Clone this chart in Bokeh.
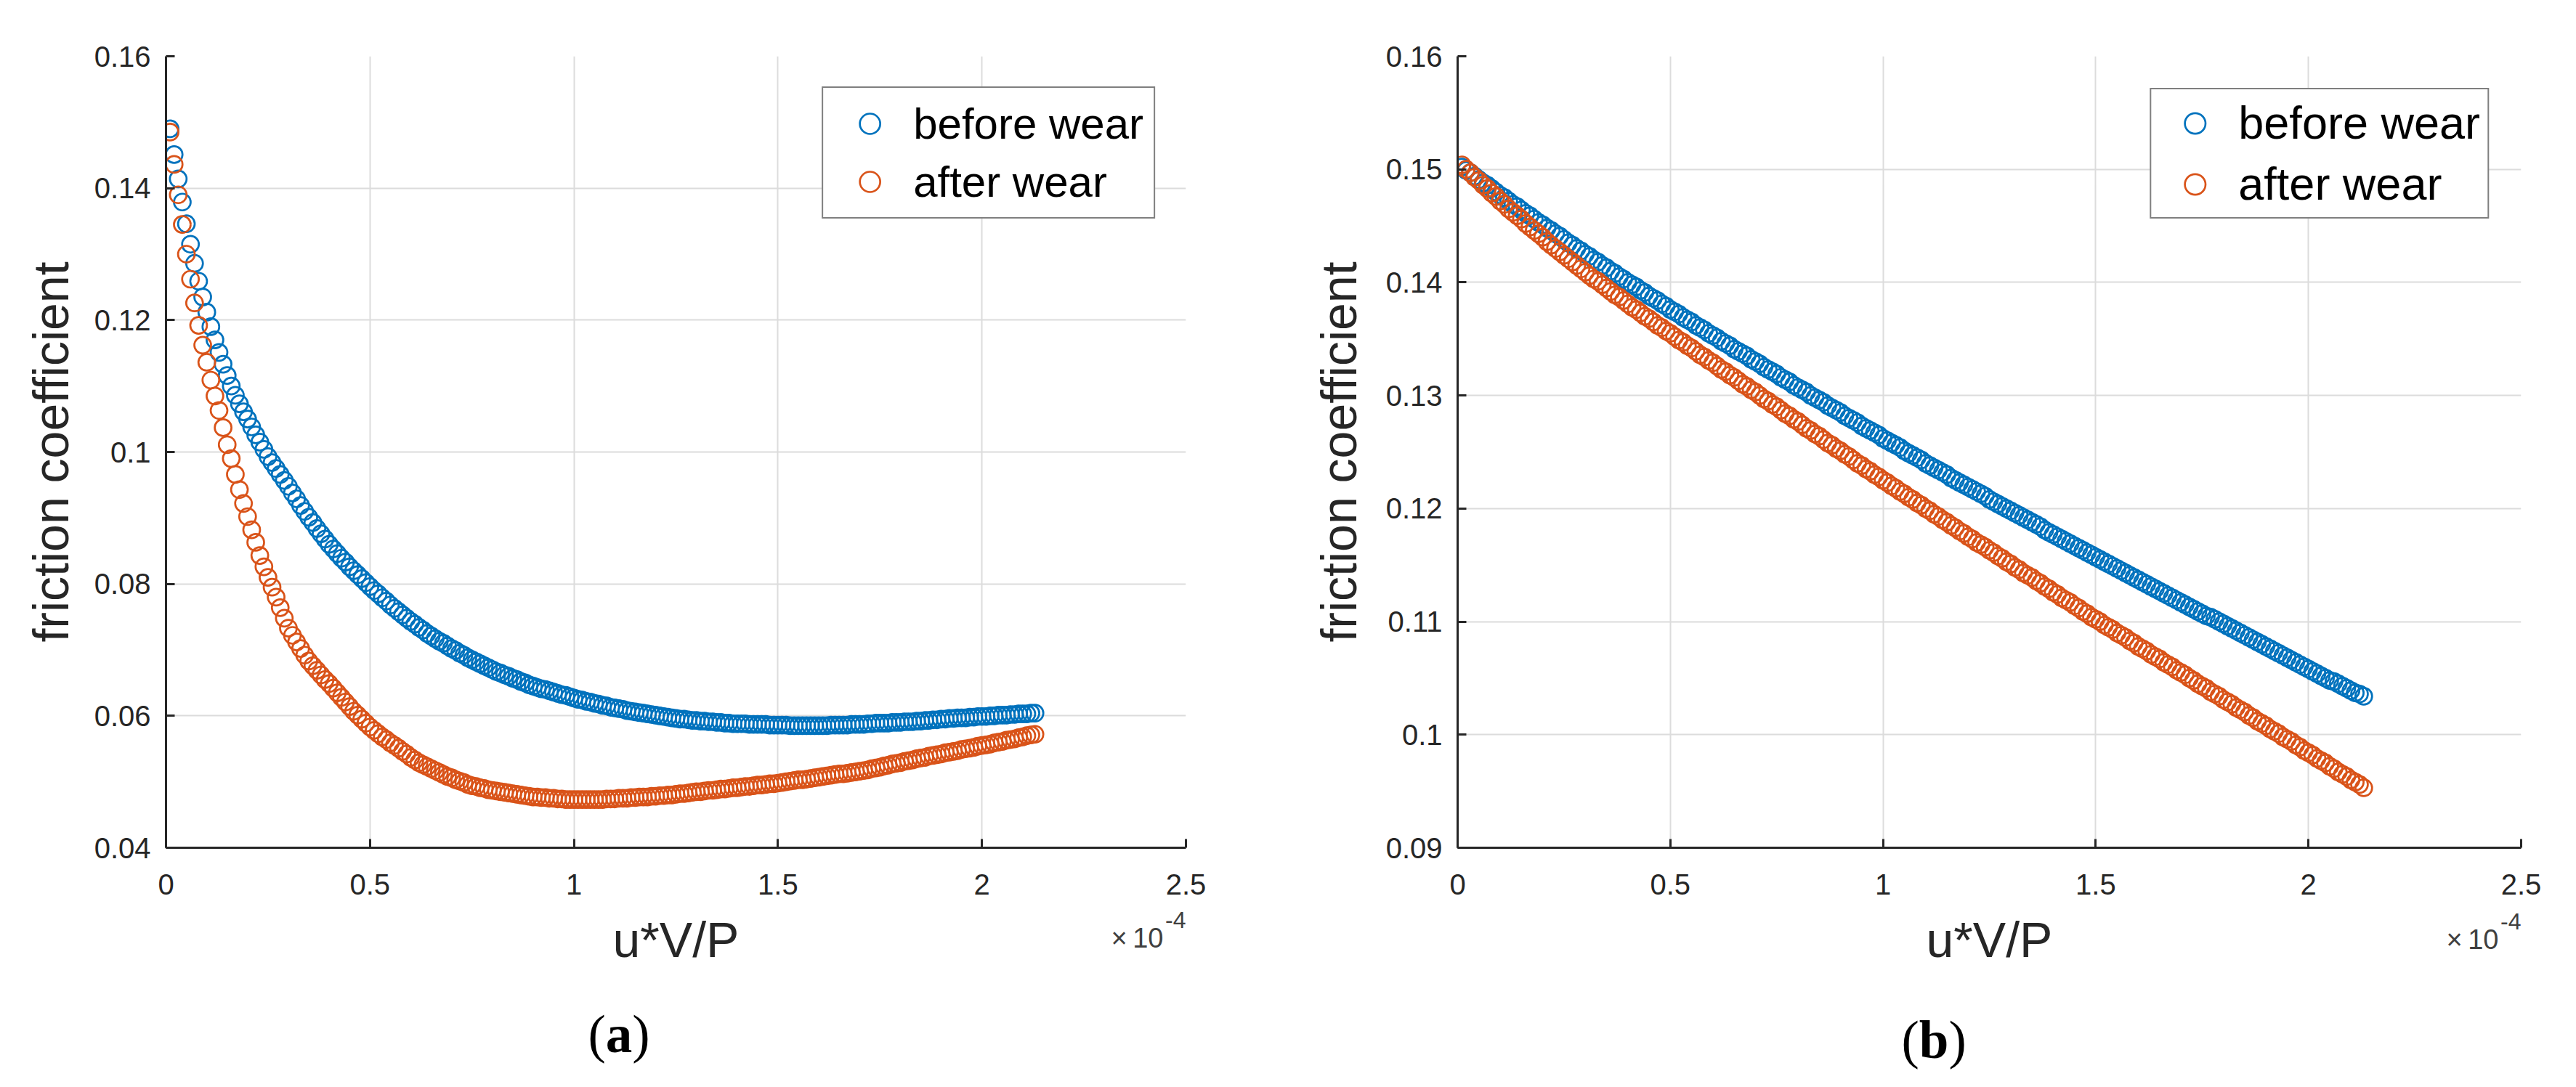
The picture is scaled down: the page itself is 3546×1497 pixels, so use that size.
from bokeh.plotting import figure
from bokeh.layouts import row
from bokeh.models import FixedTicker, Legend, LegendItem, ColumnDataSource, Range1d, Title
from bokeh.embed import file_html
from bokeh.resources import INLINE

# ---------------- data (x in units of 1e-4) ----------------
x_vals = [
    0.01, 0.02, 0.03, 0.04, 0.05, 0.06, 0.07, 0.08, 0.09, 0.10,
    0.11, 0.12, 0.13, 0.14, 0.15, 0.16, 0.17, 0.18, 0.19, 0.20,
    0.21, 0.22, 0.23, 0.24, 0.25, 0.26, 0.27, 0.28, 0.29, 0.30,
    0.31, 0.32, 0.33, 0.34, 0.35, 0.36, 0.37, 0.38, 0.39, 0.40,
    0.41, 0.42, 0.43, 0.44, 0.45, 0.46, 0.47, 0.48, 0.49, 0.50,
    0.51, 0.52, 0.53, 0.54, 0.55, 0.56, 0.57, 0.58, 0.59, 0.60,
    0.61, 0.62, 0.63, 0.64, 0.65, 0.66, 0.67, 0.68, 0.69, 0.70,
    0.71, 0.72, 0.73, 0.74, 0.75, 0.76, 0.77, 0.78, 0.79, 0.80,
    0.81, 0.82, 0.83, 0.84, 0.85, 0.86, 0.87, 0.88, 0.89, 0.90,
    0.91, 0.92, 0.93, 0.94, 0.95, 0.96, 0.97, 0.98, 0.99, 1.00,
    1.01, 1.02, 1.03, 1.04, 1.05, 1.06, 1.07, 1.08, 1.09, 1.10,
    1.11, 1.12, 1.13, 1.14, 1.15, 1.16, 1.17, 1.18, 1.19, 1.20,
    1.21, 1.22, 1.23, 1.24, 1.25, 1.26, 1.27, 1.28, 1.29, 1.30,
    1.31, 1.32, 1.33, 1.34, 1.35, 1.36, 1.37, 1.38, 1.39, 1.40,
    1.41, 1.42, 1.43, 1.44, 1.45, 1.46, 1.47, 1.48, 1.49, 1.50,
    1.51, 1.52, 1.53, 1.54, 1.55, 1.56, 1.57, 1.58, 1.59, 1.60,
    1.61, 1.62, 1.63, 1.64, 1.65, 1.66, 1.67, 1.68, 1.69, 1.70,
    1.71, 1.72, 1.73, 1.74, 1.75, 1.76, 1.77, 1.78, 1.79, 1.80,
    1.81, 1.82, 1.83, 1.84, 1.85, 1.86, 1.87, 1.88, 1.89, 1.90,
    1.91, 1.92, 1.93, 1.94, 1.95, 1.96, 1.97, 1.98, 1.99, 2.00,
    2.01, 2.02, 2.03, 2.04, 2.05, 2.06, 2.07, 2.08, 2.09, 2.10,
    2.11, 2.12, 2.13,
]

a_before = [
    0.1490, 0.1451, 0.1414, 0.1379, 0.1346, 0.1315, 0.1286, 0.1259, 0.1235, 0.1212,
    0.1190, 0.1170, 0.1151, 0.1133, 0.1116, 0.1100, 0.1086, 0.1073, 0.1061, 0.1050,
    0.1038, 0.1026, 0.1015, 0.1004, 0.0993, 0.0984, 0.0975, 0.0966, 0.0957, 0.0948,
    0.0938, 0.0929, 0.0919, 0.0910, 0.0901, 0.0893, 0.0884, 0.0876, 0.0868, 0.0860,
    0.0853, 0.0846, 0.0839, 0.0833, 0.0826, 0.0820, 0.0814, 0.0808, 0.0802, 0.0796,
    0.0790, 0.0785, 0.0779, 0.0774, 0.0768, 0.0763, 0.0758, 0.0753, 0.0748, 0.0743,
    0.0739, 0.0734, 0.0730, 0.0725, 0.0721, 0.0717, 0.0713, 0.0710, 0.0706, 0.0702,
    0.0699, 0.0695, 0.0692, 0.0688, 0.0685, 0.0682, 0.0679, 0.0676, 0.0673, 0.0670,
    0.0667, 0.0665, 0.0662, 0.0660, 0.0657, 0.0655, 0.0652, 0.0650, 0.0647, 0.0645,
    0.0643, 0.0641, 0.0640, 0.0638, 0.0636, 0.0634, 0.0632, 0.0631, 0.0629, 0.0627,
    0.0625, 0.0624, 0.0622, 0.0621, 0.0619, 0.0618, 0.0616, 0.0615, 0.0613, 0.0612,
    0.0611, 0.0610, 0.0608, 0.0607, 0.0606, 0.0605, 0.0604, 0.0603, 0.0602, 0.0601,
    0.0600, 0.0599, 0.0598, 0.0597, 0.0596, 0.0595, 0.0595, 0.0594, 0.0593, 0.0593,
    0.0592, 0.0592, 0.0591, 0.0591, 0.0590, 0.0590, 0.0589, 0.0589, 0.0588, 0.0588,
    0.0588, 0.0588, 0.0587, 0.0587, 0.0587, 0.0587, 0.0587, 0.0586, 0.0586, 0.0586,
    0.0586, 0.0586, 0.0585, 0.0585, 0.0585, 0.0585, 0.0585, 0.0585, 0.0585, 0.0585,
    0.0585, 0.0585, 0.0586, 0.0586, 0.0586, 0.0586, 0.0586, 0.0587, 0.0587, 0.0587,
    0.0587, 0.0588, 0.0588, 0.0589, 0.0589, 0.0589, 0.0589, 0.0590, 0.0590, 0.0590,
    0.0591, 0.0591, 0.0591, 0.0592, 0.0592, 0.0593, 0.0593, 0.0594, 0.0594, 0.0595,
    0.0595, 0.0596, 0.0596, 0.0597, 0.0597, 0.0597, 0.0598, 0.0598, 0.0599, 0.0599,
    0.0599, 0.0600, 0.0600, 0.0601, 0.0601, 0.0601, 0.0602, 0.0602, 0.0603, 0.0603,
    0.0603, 0.0604, 0.0604,
]

a_after = [
    0.1485, 0.1436, 0.1390, 0.1345, 0.1300, 0.1262, 0.1226, 0.1192, 0.1162, 0.1136,
    0.1109, 0.1085, 0.1063, 0.1037, 0.1011, 0.0990, 0.0966, 0.0943, 0.0922, 0.0902,
    0.0882, 0.0863, 0.0843, 0.0826, 0.0810, 0.0795, 0.0780, 0.0764, 0.0748, 0.0733,
    0.0722, 0.0712, 0.0702, 0.0692, 0.0683, 0.0676, 0.0669, 0.0662, 0.0655, 0.0649,
    0.0642, 0.0635, 0.0628, 0.0621, 0.0614, 0.0607, 0.0601, 0.0595, 0.0589, 0.0583,
    0.0578, 0.0573, 0.0568, 0.0564, 0.0559, 0.0555, 0.0551, 0.0546, 0.0542, 0.0537,
    0.0533, 0.0529, 0.0526, 0.0523, 0.0520, 0.0517, 0.0514, 0.0511, 0.0508, 0.0506,
    0.0503, 0.0501, 0.0499, 0.0496, 0.0494, 0.0493, 0.0491, 0.0490, 0.0488, 0.0487,
    0.0486, 0.0485, 0.0484, 0.0483, 0.0482, 0.0481, 0.0480, 0.0479, 0.0478, 0.0477,
    0.0477, 0.0476, 0.0476, 0.0475, 0.0475, 0.0474, 0.0474, 0.0473, 0.0473, 0.0473,
    0.0473, 0.0473, 0.0473, 0.0473, 0.0473, 0.0473, 0.0473, 0.0474, 0.0474, 0.0474,
    0.0475, 0.0475, 0.0475, 0.0476, 0.0476, 0.0477, 0.0477, 0.0477, 0.0478, 0.0478,
    0.0479, 0.0479, 0.0480, 0.0480, 0.0481, 0.0482, 0.0482, 0.0483, 0.0484, 0.0485,
    0.0485, 0.0486, 0.0487, 0.0487, 0.0488, 0.0489, 0.0489, 0.0490, 0.0491, 0.0491,
    0.0492, 0.0493, 0.0493, 0.0494, 0.0495, 0.0495, 0.0496, 0.0497, 0.0497, 0.0498,
    0.0499, 0.0500, 0.0501, 0.0502, 0.0503, 0.0503, 0.0504, 0.0505, 0.0506, 0.0507,
    0.0508, 0.0509, 0.0510, 0.0511, 0.0512, 0.0512, 0.0513, 0.0514, 0.0515, 0.0516,
    0.0517, 0.0518, 0.0520, 0.0521, 0.0522, 0.0524, 0.0525, 0.0527, 0.0528, 0.0529,
    0.0531, 0.0532, 0.0533, 0.0535, 0.0536, 0.0537, 0.0539, 0.0540, 0.0541, 0.0542,
    0.0544, 0.0545, 0.0546, 0.0547, 0.0549, 0.0550, 0.0551, 0.0552, 0.0554, 0.0555,
    0.0556, 0.0557, 0.0559, 0.0560, 0.0561, 0.0563, 0.0564, 0.0565, 0.0567, 0.0568,
    0.0570, 0.0571, 0.0572,
]

b_before = [
    0.1502, 0.1499, 0.1497, 0.1494, 0.1491, 0.1488, 0.1486, 0.1483, 0.1480, 0.1477,
    0.1475, 0.1472, 0.1469, 0.1467, 0.1464, 0.1461, 0.1459, 0.1456, 0.1453, 0.1451,
    0.1448, 0.1446, 0.1443, 0.1441, 0.1438, 0.1435, 0.1433, 0.1430, 0.1428, 0.1425,
    0.1423, 0.1420, 0.1418, 0.1415, 0.1413, 0.1410, 0.1408, 0.1405, 0.1403, 0.1400,
    0.1398, 0.1396, 0.1393, 0.1391, 0.1388, 0.1386, 0.1384, 0.1381, 0.1379, 0.1376,
    0.1374, 0.1372, 0.1369, 0.1367, 0.1365, 0.1362, 0.1360, 0.1358, 0.1355, 0.1353,
    0.1351, 0.1348, 0.1346, 0.1344, 0.1341, 0.1339, 0.1337, 0.1335, 0.1332, 0.1330,
    0.1328, 0.1325, 0.1323, 0.1321, 0.1319, 0.1316, 0.1314, 0.1312, 0.1309, 0.1307,
    0.1305, 0.1303, 0.1300, 0.1298, 0.1296, 0.1294, 0.1291, 0.1289, 0.1287, 0.1285,
    0.1282, 0.1280, 0.1278, 0.1276, 0.1273, 0.1271, 0.1269, 0.1267, 0.1265, 0.1262,
    0.1260, 0.1258, 0.1256, 0.1254, 0.1251, 0.1249, 0.1247, 0.1245, 0.1243, 0.1240,
    0.1238, 0.1236, 0.1234, 0.1232, 0.1230, 0.1227, 0.1225, 0.1223, 0.1221, 0.1219,
    0.1217, 0.1215, 0.1213, 0.1211, 0.1208, 0.1206, 0.1204, 0.1202, 0.1200, 0.1198,
    0.1196, 0.1194, 0.1192, 0.1190, 0.1188, 0.1186, 0.1184, 0.1181, 0.1179, 0.1177,
    0.1175, 0.1173, 0.1171, 0.1169, 0.1167, 0.1165, 0.1163, 0.1161, 0.1159, 0.1157,
    0.1155, 0.1153, 0.1151, 0.1149, 0.1147, 0.1145, 0.1143, 0.1141, 0.1139, 0.1137,
    0.1135, 0.1133, 0.1131, 0.1129, 0.1127, 0.1125, 0.1123, 0.1121, 0.1119, 0.1117,
    0.1115, 0.1113, 0.1111, 0.1109, 0.1107, 0.1105, 0.1104, 0.1102, 0.1100, 0.1098,
    0.1096, 0.1094, 0.1092, 0.1090, 0.1088, 0.1086, 0.1084, 0.1082, 0.1080, 0.1078,
    0.1076, 0.1074, 0.1072, 0.1070, 0.1068, 0.1066, 0.1064, 0.1062, 0.1060, 0.1058,
    0.1056, 0.1054, 0.1052, 0.1050, 0.1048, 0.1047, 0.1045, 0.1043, 0.1041, 0.1039,
    0.1037, 0.1036, 0.1034,
]

b_after = [
    0.1504, 0.1500, 0.1497, 0.1493, 0.1490, 0.1486, 0.1483, 0.1479, 0.1476, 0.1472,
    0.1469, 0.1465, 0.1462, 0.1459, 0.1456, 0.1452, 0.1449, 0.1446, 0.1443, 0.1440,
    0.1436, 0.1433, 0.1430, 0.1427, 0.1424, 0.1421, 0.1418, 0.1415, 0.1412, 0.1409,
    0.1406, 0.1403, 0.1401, 0.1398, 0.1395, 0.1392, 0.1389, 0.1387, 0.1384, 0.1381,
    0.1378, 0.1376, 0.1373, 0.1370, 0.1368, 0.1365, 0.1362, 0.1360, 0.1357, 0.1355,
    0.1352, 0.1349, 0.1347, 0.1344, 0.1342, 0.1339, 0.1336, 0.1334, 0.1331, 0.1329,
    0.1326, 0.1323, 0.1321, 0.1318, 0.1316, 0.1313, 0.1310, 0.1308, 0.1305, 0.1303,
    0.1300, 0.1297, 0.1295, 0.1292, 0.1290, 0.1287, 0.1284, 0.1282, 0.1279, 0.1277,
    0.1274, 0.1271, 0.1269, 0.1266, 0.1264, 0.1261, 0.1258, 0.1256, 0.1253, 0.1251,
    0.1248, 0.1246, 0.1243, 0.1240, 0.1238, 0.1235, 0.1233, 0.1230, 0.1228, 0.1225,
    0.1223, 0.1220, 0.1218, 0.1215, 0.1213, 0.1210, 0.1208, 0.1205, 0.1203, 0.1200,
    0.1198, 0.1195, 0.1193, 0.1190, 0.1188, 0.1185, 0.1183, 0.1180, 0.1178, 0.1175,
    0.1173, 0.1170, 0.1168, 0.1166, 0.1163, 0.1161, 0.1158, 0.1156, 0.1153, 0.1151,
    0.1148, 0.1146, 0.1143, 0.1141, 0.1139, 0.1136, 0.1134, 0.1131, 0.1129, 0.1126,
    0.1124, 0.1121, 0.1119, 0.1117, 0.1114, 0.1112, 0.1109, 0.1107, 0.1104, 0.1102,
    0.1100, 0.1097, 0.1095, 0.1093, 0.1090, 0.1088, 0.1086, 0.1083, 0.1081, 0.1078,
    0.1076, 0.1074, 0.1071, 0.1069, 0.1067, 0.1064, 0.1062, 0.1060, 0.1057, 0.1055,
    0.1053, 0.1050, 0.1048, 0.1045, 0.1043, 0.1041, 0.1038, 0.1036, 0.1034, 0.1031,
    0.1029, 0.1027, 0.1024, 0.1022, 0.1020, 0.1017, 0.1015, 0.1012, 0.1010, 0.1008,
    0.1005, 0.1003, 0.1001, 0.0998, 0.0996, 0.0994, 0.0991, 0.0989, 0.0986, 0.0984,
    0.0982, 0.0979, 0.0977, 0.0975, 0.0972, 0.0970, 0.0967, 0.0965, 0.0963, 0.0960,
    0.0958, 0.0956, 0.0953,
]

series_names = ["before wear", "after wear"]
series_colors = ["#0072BD", "#D95319"]

x_ticks = [0, 0.5, 1, 1.5, 2, 2.5]
x_tick_labels = ["0", "0.5", "1", "1.5", "2", "2.5"]
a_y_ticks = [0.04, 0.06, 0.08, 0.1, 0.12, 0.14, 0.16]
a_y_tick_labels = ["0.04", "0.06", "0.08", "0.1", "0.12", "0.14", "0.16"]
b_y_ticks = [0.09, 0.1, 0.11, 0.12, 0.13, 0.14, 0.15, 0.16]
b_y_tick_labels = ["0.09", "0.1", "0.11", "0.12", "0.13", "0.14", "0.15", "0.16"]

x_label = "u*V/P"
y_label = "friction coefficient"
exp_base = "\u00d7\u200910"
exp_power = "-4"

for arr in (a_before, a_after, b_before, b_after):
    assert len(arr) == len(x_vals)

AX_COLOR = "#262626"
SANS = "Liberation Sans"
SERIF = "Liberation Serif"


def make_panel(y_before, y_after, y_range, y_ticks, y_tick_labels, letter,
               width, height, mb_left, mb_right, mb_top, mb_bottom,
               ylab_standoff, legend_font, legend_margin, legend_padding, legend_spacing, label_h,
               base_standoff, power_standoff, cap_left, cap_standoff, letter_w):
    p = figure(width=width, height=height,
               x_range=Range1d(0, 2.5), y_range=Range1d(*y_range),
               output_backend="svg", toolbar_location=None, title=None,
               min_border_left=mb_left, min_border_right=mb_right,
               min_border_top=mb_top, min_border_bottom=mb_bottom)
    p.outline_line_color = None
    p.background_fill_color = "white"
    p.border_fill_color = "white"

    p.xaxis.ticker = FixedTicker(ticks=x_ticks)
    p.yaxis.ticker = FixedTicker(ticks=y_ticks)
    p.xgrid.ticker = FixedTicker(ticks=x_ticks)
    p.ygrid.ticker = FixedTicker(ticks=y_ticks)
    p.xaxis.major_label_overrides = dict(zip(x_ticks, x_tick_labels))
    p.yaxis.major_label_overrides = dict(zip(y_ticks, y_tick_labels))

    for ax in (p.xaxis[0], p.yaxis[0]):
        ax.axis_line_color = AX_COLOR
        ax.axis_line_width = 3
        ax.major_tick_line_color = AX_COLOR
        ax.major_tick_line_width = 3
        ax.major_tick_in = 12
        ax.major_tick_out = 0
        ax.minor_tick_line_color = None
        ax.major_label_text_font = SANS
        ax.major_label_text_font_size = "40px"
        ax.major_label_text_color = AX_COLOR
        ax.axis_label_text_font = SANS
        ax.axis_label_text_font_size = "68px"
        ax.axis_label_text_font_style = "normal"
        ax.axis_label_text_color = AX_COLOR
    p.xaxis.axis_label = x_label
    p.yaxis.axis_label = y_label
    p.xaxis.major_label_standoff = 36
    p.yaxis.major_label_standoff = 21
    p.xaxis.axis_label_standoff = 21
    p.yaxis.axis_label_standoff = ylab_standoff

    p.grid.grid_line_color = "#dcdcdc"
    p.grid.grid_line_width = 2

    renderers = []
    for ys, color in zip((y_before, y_after), series_colors):
        src = ColumnDataSource(data=dict(x=x_vals, y=ys))
        r = p.scatter(x="x", y="y", source=src, marker="circle", size=23,
                      fill_color=None, line_color=color, line_width=2.7)
        renderers.append(r)

    legend = Legend(items=[LegendItem(label=n, renderers=[r]) for n, r in zip(series_names, renderers)],
                    location="top_right", margin=legend_margin, padding=legend_padding,
                    spacing=legend_spacing,
                    glyph_width=100, glyph_height=label_h, label_height=label_h, label_standoff=10,
                    label_text_font=SANS, label_text_font_size=legend_font,
                    label_text_color="#000000", label_text_baseline="middle",
                    border_line_color="#000000", border_line_width=2,
                    background_fill_color="white", background_fill_alpha=1.0)
    p.add_layout(legend)

    # axis exponent "x10^-4", right-aligned under the end of the x axis
    p.add_layout(Title(text=exp_power, align="right", offset=0, vertical_align="top",
                       standoff=power_standoff, text_font=SANS, text_font_size="32px",
                       text_font_style="normal", text_color="#404040"), "below")
    p.add_layout(Title(text=exp_base, align="right", offset=31, vertical_align="top",
                       standoff=base_standoff, text_font=SANS, text_font_size="38px",
                       text_font_style="normal", text_color="#404040"), "below")

    # panel caption "(a)" / "(b)" with a bold letter
    paren_w = 0.333 * 73
    parts = [("(", "normal", cap_left),
             (letter, "bold", cap_left + paren_w),
             (")", "normal", cap_left + paren_w + letter_w)]
    for txt, style, off in parts:
        p.add_layout(Title(text=txt, align="left", offset=off, vertical_align="bottom",
                           standoff=cap_standoff, text_font=SERIF, text_font_size="73px",
                           text_font_style=style, text_color="black"), "below")
    return p


pa = make_panel(a_before, a_after, (0.04, 0.16), a_y_ticks, a_y_tick_labels, "a",
                width=1800, height=1495, mb_left=228, mb_right=168, mb_top=77, mb_bottom=328,
                ylab_standoff=19, legend_font="60px", legend_margin=42, legend_padding=14,
                legend_spacing=10, label_h=70,
                base_standoff=-128, power_standoff=-158,
                cap_left=581, cap_standoff=-260, letter_w=0.5 * 73)
pb = make_panel(b_before, b_after, (0.09, 0.16), b_y_ticks, b_y_tick_labels, "b",
                width=1746, height=1495, mb_left=206, mb_right=76, mb_top=71, mb_bottom=324,
                ylab_standoff=24, legend_font="63px", legend_margin=44, legend_padding=10,
                legend_spacing=12, label_h=71,
                base_standoff=-124, power_standoff=-154,
                cap_left=611, cap_standoff=-276, letter_w=0.556 * 73)

layout = row(pa, pb)
open("out.html", "w").write(file_html(layout, INLINE))
